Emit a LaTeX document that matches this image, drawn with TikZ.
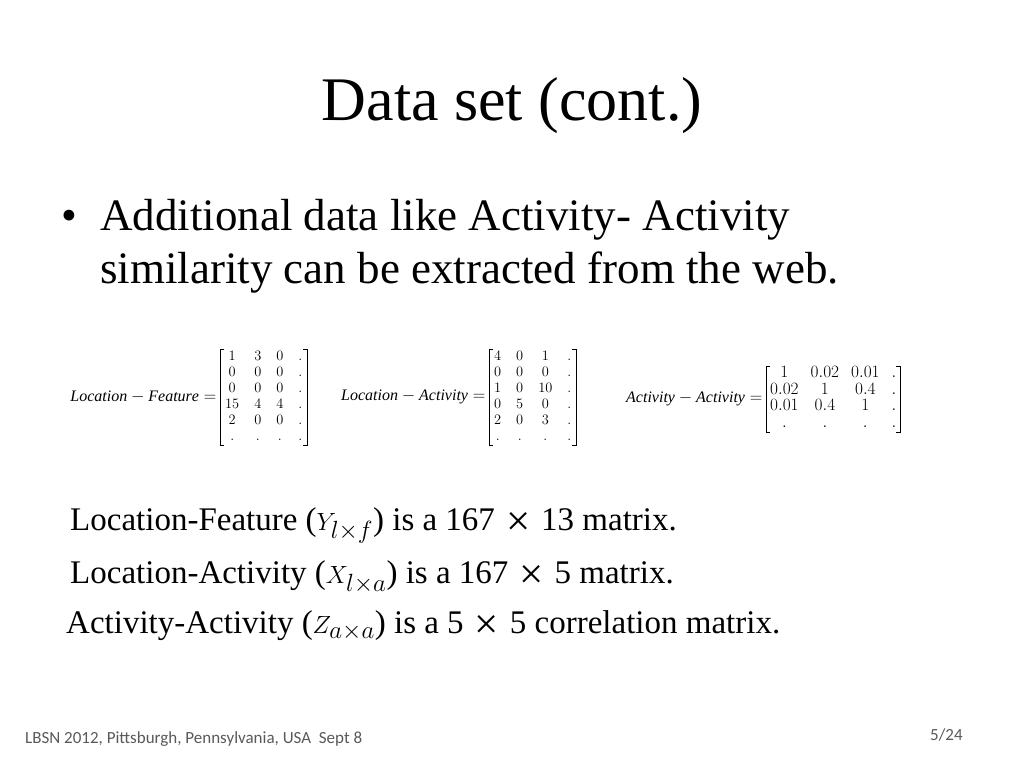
\documentclass[tikz,border=0pt]{standalone}
\usepackage{amsmath}
\usepackage{fontspec}
\setmainfont{Liberation Serif}
\newfontfamily\footfont{Carlito}
\usetikzlibrary{positioning}

% thin square brackets round a node
\newcommand{\brk}[1]{%
  \draw[thin] ([xshift=4pt]#1.north west) -- (#1.north west) -- (#1.south west) -- ([xshift=4pt]#1.south west);
  \draw[thin] ([xshift=-4pt]#1.north east) -- (#1.north east) -- (#1.south east) -- ([xshift=-4pt]#1.south east);}
\newcommand{\by}{\hspace{11pt}\raisebox{-5pt}{\scalebox{1.3}{×}}\hspace{11pt}}

\begin{document}
\begin{tikzpicture}[x=1pt,y=-1pt,
  txt/.style={inner sep=0pt,anchor=base west},
  big/.style={font=\fontsize{45}{53}\selectfont},
  mat/.style={inner xsep=4.5pt,inner ysep=0pt,font=\fontsize{14}{16}\selectfont\setlength{\arraycolsep}{7.5pt}},
  lab/.style={inner sep=0pt,font=\fontsize{16}{16}\selectfont},
  small/.style={font=\fontsize{33}{40}\selectfont},
  foot/.style={inner sep=0pt,text=black!65,font=\footfont\fontsize{17}{20}\selectfont}]
\useasboundingbox (0,0) rectangle (1024,768);

\node[anchor=base,inner sep=0pt,font=\fontsize{62}{70}\selectfont] (title) at (512,120) {Data set (cont.)};

\node[txt,big] (bul) at (61,230) {\textbullet};
\node[txt,big] (l1) at (100,230) {Additional data like Activity- Activity};
\node[txt,big] (l2) at (100,283) {similarity can be extracted from the web.};

% matrices
\node[mat,anchor=east] (mlf) at (307,397) {$\begin{matrix}1&3&0&.\\0&0&0&.\\0&0&0&.\\15&4&4&.\\2&0&0&.\\.&.&.&.\end{matrix}$};
\node[lab,left=4pt of mlf] (llf) {$\mathit{Location}-\mathit{Feature}=$};
\brk{mlf}

\node[mat,anchor=east] (mla) at (576,397) {$\begin{matrix}4&0&1&.\\0&0&0&.\\1&0&10&.\\0&5&0&.\\2&0&3&.\\.&.&.&.\end{matrix}$};
\node[lab,left=4pt of mla] (lla) {$\mathit{Location}-\mathit{Activity}=$};
\brk{mla}

\node[mat,anchor=east,inner xsep=3.5pt,font=\fontsize{16}{16.5}\selectfont\setlength{\arraycolsep}{6pt}] (maa) at (900,399) {$\begin{matrix}1&0.02&0.01&.\\0.02&1&0.4&.\\0.01&0.4&1&.\\.&.&.&.\end{matrix}$};
\node[lab,left=4pt of maa] (laa) {$\mathit{Activity}-\mathit{Activity}=$};
\brk{maa}

\node[txt,small] (s1) at (70,530) {Location-Feature ($Y_{l\times f}$) is a 167\by13 matrix.};
\node[txt,small] (s2) at (70,583) {Location-Activity ($X_{l\times a}$) is a 167\by5 matrix.};
\node[txt,small] (s3) at (66,633) {Activity-Activity ($Z_{a\times a}$) is a 5\by5 correlation matrix.};

\node[foot,anchor=base west] (date) at (25,743) {LBSN 2012, Pittsburgh, Pennsylvania, USA\ \ Sept 8};
\node[foot,anchor=base west] (page) at (930,740) {5/24};
\end{tikzpicture}
\end{document}
